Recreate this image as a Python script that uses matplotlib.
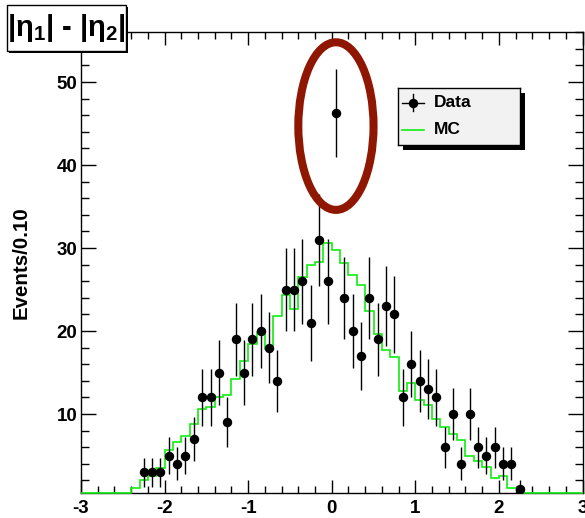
import numpy as np
import matplotlib.pyplot as plt
from matplotlib.patches import Ellipse, Rectangle
from matplotlib.ticker import MultipleLocator

plt.rcParams['font.family'] = ['Liberation Sans', 'DejaVu Sans']
plt.rcParams['font.weight'] = 'bold'
plt.rcParams['axes.unicode_minus'] = False
plt.rcParams['mathtext.fontset'] = 'custom'
plt.rcParams['mathtext.rm'] = 'Liberation Sans:bold'
plt.rcParams['mathtext.it'] = 'Liberation Sans:bold'
plt.rcParams['mathtext.bf'] = 'Liberation Sans:bold'
plt.rcParams['mathtext.default'] = 'rm'

# 60 bins of width 0.1 between -3 and 3
edges = np.round(np.linspace(-3.0, 3.0, 61), 2)
centers = 0.5 * (edges[:-1] + edges[1:])

# data counts per bin
data_counts = np.array([
    0, 0, 0, 0, 0, 0, 0, 3, 3, 3,
    5, 4, 5, 7, 12, 12, 15, 9, 19, 15,
    19, 20, 18, 14, 25, 25, 26, 21, 31, 26,
    46.3, 24, 20, 17, 24, 19, 23, 22, 12, 16,
    14, 13, 12, 6, 10, 4, 10, 6, 5, 6,
    4, 4, 1, 0, 0, 0, 0, 0, 0, 0,
])
# the odd bin at 0.05 has its own error
outlier_bin = 30
outlier_err = 5.3

# MC prediction per bin
mc_counts = np.array([
    0, 0, 0, 0, 0, 0, 1.07, 2.0, 2.55, 3.5,
    5.7, 6.6, 7.35, 8.85, 10.6, 10.9, 12.0, 12.3, 14.2, 16.4,
    18.5, 19.9, 17.8, 21.8, 24.3, 22.7, 26.5, 28.0, 28.3, 30.6,
    29.8, 28.2, 26.8, 25.5, 22.4, 19.7, 17.7, 16.9, 12.8, 13.8,
    11.7, 11.15, 9.4, 8.4, 7.6, 6.9, 5.0, 4.3, 3.6, 2.35,
    2.55, 1.07, 1.07, 0, 0, 0, 0, 0, 0, 0,
])

data_err = np.sqrt(data_counts)
data_err[outlier_bin] = outlier_err

W, H = 585, 518
ylo, yhi = 0.45, 56.0
green = '#11ee11'

fig = plt.figure(figsize=(W / 100, H / 100), dpi=100)
ax = fig.add_axes([81 / W, (H - 493.3) / H, (582.5 - 81) / W, (493.3 - 32.3) / H])

# MC histogram, empty bins sit on the bottom axis
ax.stairs(np.maximum(mc_counts, ylo), edges, baseline=None, color=green,
          linewidth=1.2, zorder=3, clip_on=False)

filled = data_counts > 0
ax.errorbar(centers[filled], data_counts[filled], yerr=data_err[filled],
            fmt='o', color='black', markersize=5.8, elinewidth=1.0,
            capsize=0, zorder=4)

ax.set_xlim(-3, 3)
ax.set_ylim(ylo, yhi)
ax.xaxis.set_major_locator(MultipleLocator(1))
ax.xaxis.set_minor_locator(MultipleLocator(0.2))
ax.yaxis.set_major_locator(MultipleLocator(10))
ax.yaxis.set_minor_locator(MultipleLocator(2))
ax.tick_params(which='both', direction='in', top=True, right=True, width=1,
               labelsize=13.5)
ax.tick_params(axis='x', which='major', length=9.5, pad=4.5)
ax.tick_params(axis='x', which='minor', length=5)
ax.tick_params(axis='y', which='major', length=11, pad=2.7)
ax.tick_params(axis='y', which='minor', length=6)
for lab in ax.get_xticklabels() + ax.get_yticklabels():
    lab.set_fontweight('bold')
for sp in ax.spines.values():
    sp.set_linewidth(1.0)

ax.set_ylabel('Events/0.10', fontsize=14.8, fontweight='bold')
ax.yaxis.set_label_coords(-0.0997, 0.5)

# ring around the high bin
ring = Ellipse((centers[outlier_bin], data_counts[outlier_bin] - 1.6), 0.9, 20.2,
               fill=False, edgecolor='#8f1600', linewidth=5.8, zorder=6,
               clip_on=False)
ax.add_patch(ring)

# legend box with drop shadow
lx, ly, lw, lh = 398, 88, 122, 57
fig.add_artist(Rectangle(((lx + 4.5) / W, (H - ly - lh - 4.5) / H), lw / W, lh / H,
                         transform=fig.transFigure, facecolor='black',
                         edgecolor='none', zorder=4))
leg = fig.add_axes([lx / W, (H - ly - lh) / H, lw / W, lh / H])
leg.set_zorder(5)
leg.set_facecolor('#f2f2f2')
leg.set_xlim(0, lw)
leg.set_ylim(lh, 0)
leg.set_xticks([])
leg.set_yticks([])
for sp in leg.spines.values():
    sp.set_linewidth(1.0)
leg.plot([4, 26], [14.5, 14.5], color='black', linewidth=1.0)
leg.plot([15, 15], [6, 23], color='black', linewidth=1.0)
leg.plot([15], [14.5], 'o', color='black', markersize=5.8)
leg.plot([4, 26], [42, 42], color=green, linewidth=1.2)
leg.text(36, 14.5, 'Data', fontsize=12.5, fontweight='bold', va='center')
leg.text(36, 42, 'MC', fontsize=12.5, fontweight='bold', va='center')

# title box in the corner
tx, ty, tw, th = 7, 5, 119, 46
fig.add_artist(Rectangle(((tx + 2) / W, (H - ty - th - 2) / H), tw / W, th / H,
                         transform=fig.transFigure, facecolor='black',
                         edgecolor='none', zorder=7))
fig.add_artist(Rectangle((tx / W, (H - ty - th) / H), tw / W, th / H,
                         transform=fig.transFigure, facecolor='white',
                         edgecolor='black', linewidth=1.0, zorder=8))
fig.text((tx + tw / 2) / W, (H - ty - th / 2) / H, r'|$\eta_1$| - |$\eta_2$|',
         fontsize=21, fontweight='bold', ha='center', va='center', zorder=9)

fig.savefig('out.png', dpi=100)
